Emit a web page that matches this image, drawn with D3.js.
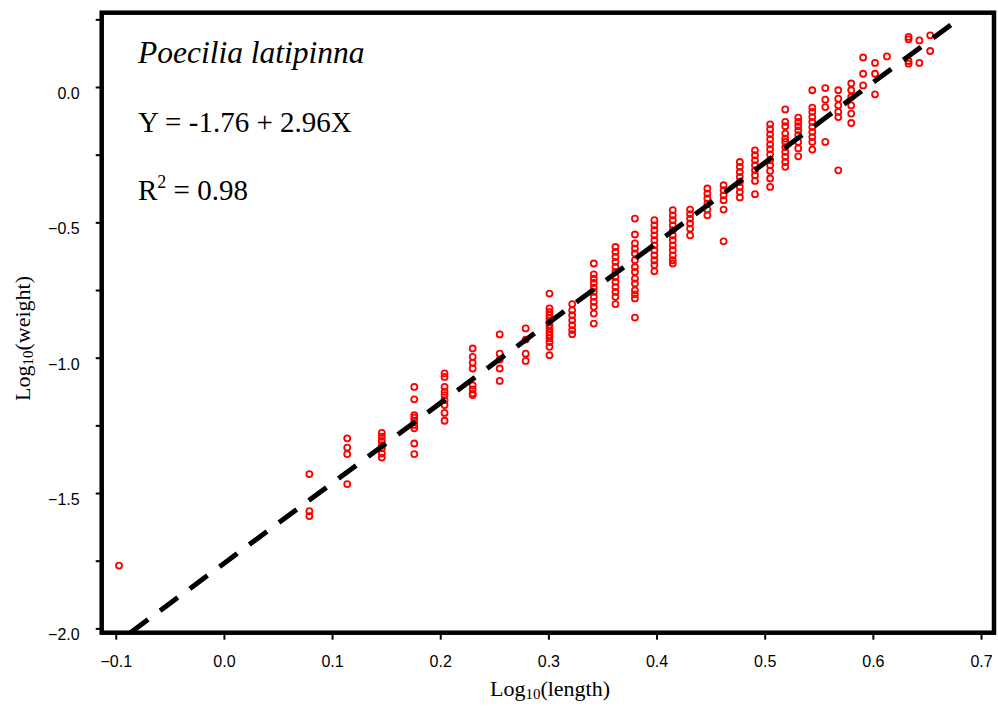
<!DOCTYPE html>
<html>
<head>
<meta charset="utf-8">
<script src="https://cdn.jsdelivr.net/npm/d3@7"></script>
<style>
  body { margin: 0; background: #fff; }
  svg { display: block; }
</style>
</head>
<body>
<div id="chart"></div>
<script>
// log10(length) of each measured length class
const logLength = [-0.097, 0.079, 0.114, 0.146, 0.176, 0.204, 0.230, 0.255, 0.279, 0.301,
  0.322, 0.342, 0.362, 0.380, 0.398, 0.415, 0.431, 0.447, 0.462, 0.477,
  0.491, 0.505, 0.519, 0.531, 0.544, 0.556, 0.568, 0.580, 0.591, 0.602,
  0.613, 0.633, 0.643, 0.653];

// log10(weight) of the fish in each length class
const logWeight = [
  [-1.768],
  [-1.430, -1.567, -1.585],
  [-1.298, -1.332, -1.356, -1.467],
  [-1.278, -1.292, -1.307, -1.323, -1.335, -1.354, -1.369],
  [-1.108, -1.154, -1.212, -1.221, -1.233, -1.249, -1.261, -1.317, -1.356],
  [-1.058, -1.071, -1.108, -1.126, -1.138, -1.157, -1.175, -1.204, -1.233],
  [-0.966, -0.997, -1.019, -1.040, -1.102, -1.117, -1.132, -1.138],
  [-0.914, -0.985, -1.007, -1.040, -1.086],
  [-0.892, -0.933, -0.985, -1.012],
  [-0.763, -0.818, -0.831, -0.843, -0.855, -0.868, -0.880, -0.892, -0.905, -0.917, -0.929, -0.942, -0.960, -0.991],
  [-0.802, -0.825, -0.843, -0.862, -0.880, -0.898, -0.913],
  [-0.652, -0.692, -0.708, -0.724, -0.741, -0.757, -0.775, -0.794, -0.812, -0.837, -0.874],
  [-0.591, -0.609, -0.628, -0.646, -0.665, -0.683, -0.702, -0.720, -0.739, -0.757, -0.775, -0.802],
  [-0.486, -0.545, -0.578, -0.597, -0.615, -0.640, -0.665, -0.683, -0.708, -0.726, -0.751, -0.766, -0.781, -0.852],
  [-0.492, -0.511, -0.529, -0.548, -0.566, -0.585, -0.603, -0.622, -0.640, -0.658, -0.681],
  [-0.455, -0.474, -0.492, -0.511, -0.529, -0.548, -0.566, -0.585, -0.603, -0.622, -0.640, -0.652],
  [-0.453, -0.470, -0.486, -0.504, -0.523, -0.548],
  [-0.375, -0.394, -0.412, -0.431, -0.453, -0.474],
  [-0.363, -0.381, -0.400, -0.418, -0.453, -0.570],
  [-0.277, -0.295, -0.314, -0.332, -0.351, -0.369, -0.388, -0.408],
  [-0.234, -0.252, -0.271, -0.289, -0.308, -0.326, -0.347, -0.396],
  [-0.138, -0.156, -0.175, -0.193, -0.212, -0.230, -0.249, -0.271, -0.289, -0.310, -0.338, -0.369],
  [-0.083, -0.129, -0.145, -0.172, -0.191, -0.203, -0.222, -0.240, -0.258, -0.277, -0.295],
  [-0.113, -0.129, -0.145, -0.160, -0.178, -0.203, -0.227, -0.256],
  [-0.012, -0.076, -0.092, -0.111, -0.129, -0.148, -0.166, -0.185, -0.203, -0.231],
  [-0.004, -0.047, -0.074, -0.203],
  [-0.012, -0.043, -0.068, -0.092, -0.111, -0.308],
  [0.013, -0.012, -0.037, -0.068, -0.098, -0.133],
  [0.109, 0.049, 0.006],
  [0.089, 0.049, -0.027],
  [0.113],
  [0.185, 0.176, 0.096, 0.086],
  [0.172, 0.089],
  [0.191, 0.133]
];

// regression from the chart annotation
const fitIntercept = -1.76;
const fitSlope = 2.96;
const fitRange = [-0.0865, 0.676];

const xTicks = [-0.1, 0.0, 0.1, 0.2, 0.3, 0.4, 0.5, 0.6, 0.7];
const yTicks = [-2.0, -1.5, -1.0, -0.5, 0.0];
const yMinorTicks = [-1.75, -1.25, -0.75, -0.25, 0.25];

const points = [];
logLength.forEach((x, i) => logWeight[i].forEach(y => points.push({ x: x, y: y })));

// screen
const W = 998, H = 706;
const margin = { top: 12.7, right: 4, bottom: 73.3, left: 101.7 };
const width = W - margin.left - margin.right,
  height = H - margin.top - margin.bottom;

const svg = d3.select("#chart")
  .append("svg")
  .attr("width", W)
  .attr("height", H);

const g = svg.append("g")
  .attr("transform", `translate(${margin.left},${margin.top})`);

const xScale = d3.scaleLinear()
  .domain([-0.113, 0.712])
  .range([0, width]);

const yScale = d3.scaleLinear()
  .domain([-2.016, 0.2745])
  .range([height, 0]);

g.append("clipPath")
  .attr("id", "plot-clip")
  .append("rect")
  .attr("width", width)
  .attr("height", height);

// points
g.append("g")
  .selectAll("circle")
  .data(points)
  .enter().append("circle")
  .attr("cx", d => xScale(d.x))
  .attr("cy", d => yScale(d.y))
  .attr("r", 3)
  .attr("fill", "none")
  .attr("stroke", "#ff0000")
  .attr("stroke-width", 1.8);

// regression line
const fitLine = d3.line()
  .x(d => xScale(d))
  .y(d => yScale(fitIntercept + fitSlope * d));

g.append("path")
  .datum(fitRange)
  .attr("clip-path", "url(#plot-clip)")
  .attr("d", fitLine)
  .attr("fill", "none")
  .attr("stroke", "#000")
  .attr("stroke-width", 5)
  .attr("stroke-dasharray", "22,15");

// axes
const xAxis = d3.axisBottom(xScale)
  .tickValues(xTicks)
  .tickSize(7)
  .tickPadding(16)
  .tickFormat(d3.format(".1f"));

const yAxis = d3.axisLeft(yScale)
  .tickValues(yTicks)
  .tickSize(6)
  .tickPadding(16)
  .tickFormat(d3.format(".1f"));

const yMinor = d3.axisLeft(yScale)
  .tickValues(yMinorTicks)
  .tickSize(6)
  .tickFormat("");

const gx = g.append("g")
  .attr("class", "x-axis")
  .attr("transform", `translate(0,${height})`)
  .call(xAxis);

const gy = g.append("g")
  .attr("class", "y-axis")
  .call(yAxis);

const gyMinor = g.append("g")
  .attr("class", "y-minor")
  .call(yMinor);

[gx, gy, gyMinor].forEach(a => {
  a.select(".domain").remove();
  a.selectAll("line").attr("stroke", "#000").attr("stroke-width", 2);
  a.selectAll("text")
    .attr("fill", "#000")
    .style("font-family", "'Liberation Sans', Arial, sans-serif")
    .style("font-size", "16px");
});
gx.selectAll("text").attr("dy", "0.71em").attr("y", 23);
gy.selectAll("text").attr("dy", "0.72em");

// frame
g.append("rect")
  .attr("width", width)
  .attr("height", height)
  .attr("fill", "none")
  .attr("stroke", "#000")
  .attr("stroke-width", 4.5);

// annotations
const serif = "'Liberation Serif', serif";

g.append("text")
  .attr("x", 36.3)
  .attr("y", 50.5)
  .style("font-family", serif)
  .style("font-style", "italic")
  .style("font-size", "31.5px")
  .text("Poecilia latipinna");

g.append("text")
  .attr("x", 36.3)
  .attr("y", 119)
  .style("font-family", serif)
  .style("font-size", "29px")
  .text("Y = -1.76 + 2.96X");

const r2 = g.append("text")
  .attr("x", 36.3)
  .attr("y", 187.5)
  .style("font-family", serif)
  .style("font-size", "29px");
r2.append("tspan").text("R");
r2.append("tspan").attr("dy", -12).style("font-size", "18px").text("2");
r2.append("tspan").attr("dy", 12).text(" = 0.98");

// axis titles
const xTitle = svg.append("text")
  .attr("x", 550)
  .attr("y", 696)
  .attr("text-anchor", "middle")
  .style("font-family", serif)
  .style("font-size", "22px");
xTitle.append("tspan").text("Log");
xTitle.append("tspan").attr("dy", 3).style("font-size", "15px").text("10");
xTitle.append("tspan").attr("dy", -3).text("(length)");

const yTitle = svg.append("text")
  .attr("transform", "translate(30,338.5) rotate(-90)")
  .attr("text-anchor", "middle")
  .style("font-family", serif)
  .style("font-size", "22px");
yTitle.append("tspan").text("Log");
yTitle.append("tspan").attr("dy", 3).style("font-size", "15px").text("10");
yTitle.append("tspan").attr("dy", -3).text("(weight)");
</script>
</body>
</html>
